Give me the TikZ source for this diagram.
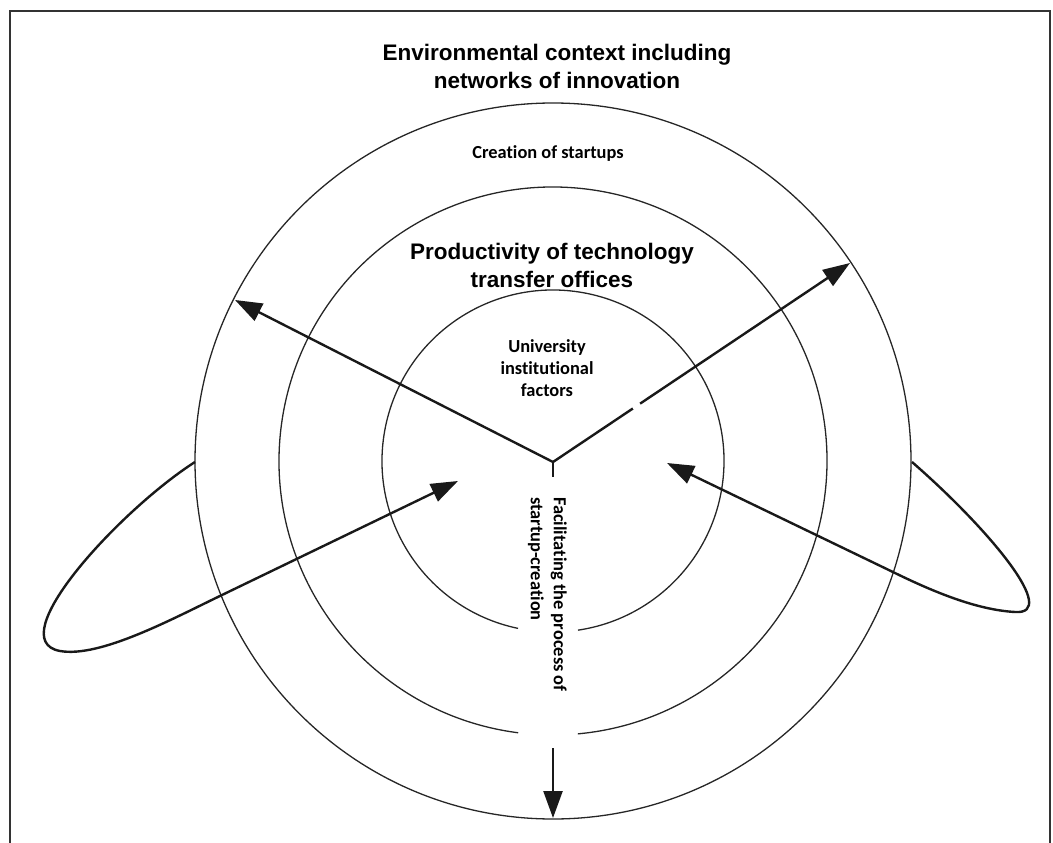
\documentclass[tikz,border=0pt]{standalone}
\usepackage{fontspec}
\setmainfont{Carlito}[Ligatures=NoCommon]
\newfontfamily\helv{Liberation Sans}
\usetikzlibrary{arrows.meta}
\begin{document}
\begin{tikzpicture}[x=1pt,y=-1pt,
  ring/.style={line width=1.3pt, draw=black!85},
  conn/.style={line width=2.4pt, draw=black!90},
  headarrow/.style={conn, -{Triangle[length=27pt,width=19pt]}},
  loopline/.style={line width=2.4pt, draw=black!90, -{Triangle[length=27pt,width=19pt]}},
  frameline/.style={line width=2.2pt, draw=black!80},
  bigsans/.style={font=\helv\bfseries\fontsize{22.5}{28}\selectfont, align=center, inner sep=0pt},
  smallcal/.style={font=\bfseries\fontsize{18.4}{22}\selectfont, align=center, inner sep=0pt}
]
\useasboundingbox (0,0) rectangle (1053,843);
% frame
\draw[frameline] (10,843) -- (10,11) -- (1050,11) -- (1050,843);

% centre and key points
\coordinate (ctr) at (553,461);
\coordinate (junc) at (553,462);
\coordinate (stub) at (553,477);
\coordinate (ltip) at (235,300);
\coordinate (rtip) at (850,263);
\coordinate (btail) at (553,748);
\coordinate (btip) at (553,818);
\coordinate (lstart) at (195,462);
\coordinate (lcross) at (222,595);
\coordinate (linner) at (458,481);
\coordinate (rstart) at (912,462);
\coordinate (rcross) at (895,573);
\coordinate (rinner) at (667,463);
\coordinate (gapa) at (633,408.4);
\coordinate (gapb) at (640,403.7);

% rings
\draw[ring] (ctr) circle[radius=358];
\draw[ring] ([shift={(97.3:274)}]ctr) arc[start angle=97.3, end angle=444.8, radius=274];
\draw[ring] ([shift={(101.8:171)}]ctr) arc[start angle=101.8, end angle=441.6, radius=171];

% Y connectors
\draw[headarrow] (junc) -- (ltip);
\draw[headarrow] (junc) -- (rtip);
\draw[conn] (junc) -- (stub);
\draw[white, line width=4pt] (gapa) -- (gapb);
\draw[headarrow] (btail) -- (btip);

% loops
\draw[loopline] (lstart) .. controls (120,510) and (0,640) .. (60,651)
  .. controls (100,658) and (172,619) .. (lcross) -- (linner);
\draw[loopline] (rstart) .. controls (990,530) and (1060,615) .. (1015,612)
  .. controls (980,610) and (940,595) .. (rcross) -- (rinner);

% texts
\node[bigsans] (title) at (557,66) {Environmental context including\\networks of innovation};
\node[smallcal] (creation) at (548,153) {Creation of startups};
\node[bigsans] (tto) at (552,265) {Productivity of technology\\transfer offices};
\node[smallcal] (univ) at (547,368) {University\\institutional\\factors};
\node[font=\bfseries\fontsize{18.4}{23}\selectfont, align=left, inner sep=0pt,
      rotate=-90, anchor=north west] (facil) at (567,497)
  {Facilitating the process of\\startup-creation};
\end{tikzpicture}
\end{document}
